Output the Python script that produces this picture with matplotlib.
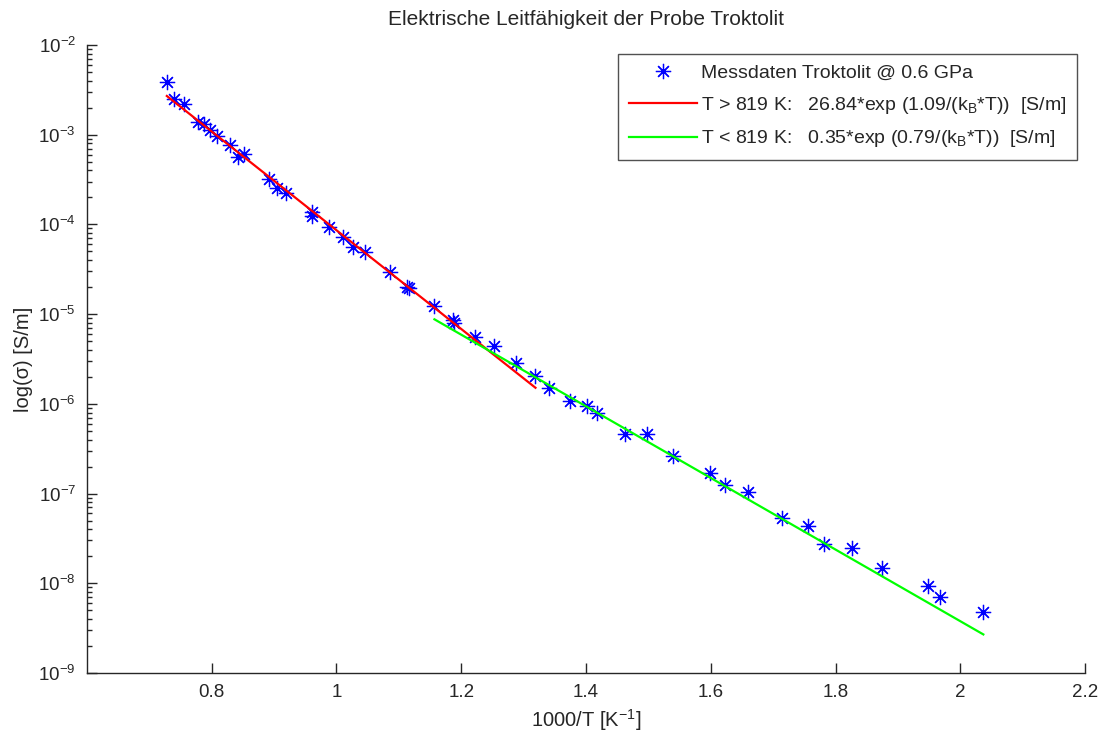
import matplotlib
matplotlib.use("Agg")
import matplotlib.pyplot as plt
from matplotlib.ticker import FixedLocator, FixedFormatter, LogLocator, NullFormatter

plt.rcParams["font.family"] = ["Liberation Sans", "DejaVu Sans"]
plt.rcParams["mathtext.fontset"] = "custom"
plt.rcParams["mathtext.rm"] = "Liberation Sans"
plt.rcParams["mathtext.it"] = "Liberation Sans"

# Messdaten (1000/T, sigma in S/m)
inv_T = [0.728, 0.740, 0.756, 0.778, 0.788, 0.797, 0.809, 0.829, 0.842, 0.852,
         0.892, 0.905, 0.919, 0.961, 0.961, 0.988, 1.011, 1.027, 1.046, 1.086,
         1.113, 1.116, 1.157, 1.187, 1.189, 1.222, 1.253, 1.288, 1.319, 1.341,
         1.375, 1.402, 1.418, 1.463, 1.498, 1.540, 1.599, 1.623, 1.659, 1.715,
         1.756, 1.782, 1.827, 1.875, 1.949, 1.968, 2.037]
sigma = [3.87e-3, 2.50e-3, 2.20e-3, 1.39e-3, 1.32e-3, 1.13e-3, 9.7e-4, 7.7e-4, 5.6e-4, 6.1e-4,
         3.2e-4, 2.55e-4, 2.24e-4, 1.37e-4, 1.24e-4, 9.4e-5, 7.2e-5, 5.6e-5, 4.9e-5, 2.94e-5,
         2.00e-5, 1.95e-5, 1.23e-5, 8.6e-6, 8.0e-6, 5.6e-6, 4.4e-6, 2.85e-6, 2.04e-6, 1.50e-6,
         1.07e-6, 9.4e-7, 7.9e-7, 4.6e-7, 4.6e-7, 2.62e-7, 1.69e-7, 1.25e-7, 1.04e-7, 5.3e-8,
         4.3e-8, 2.74e-8, 2.47e-8, 1.47e-8, 9.3e-9, 7.0e-9, 4.8e-9]

# Fit-Geraden (Endpunkte)
fit_hot_x = [0.728, 1.319]
fit_hot_y = [2.70e-3, 1.51e-6]
fit_cold_x = [1.157, 2.037]
fit_cold_y = [8.75e-6, 2.69e-9]

x_ticks = [0.8, 1.0, 1.2, 1.4, 1.6, 1.8, 2.0, 2.2]
x_tick_labels = ["0.8", "1", "1.2", "1.4", "1.6", "1.8", "2", "2.2"]

label_data = "Messdaten Troktolit @ 0.6 GPa"
label_hot = r"T > 819 K:   26.84*exp (1.09/(k$_\mathregular{B}$*T))  [S/m]"
label_cold = r"T < 819 K:   0.35*exp (0.79/(k$_\mathregular{B}$*T))  [S/m]"

txt_color = "#262626"

fig = plt.figure(figsize=(11.04, 7.38), dpi=100)
ax = fig.add_axes([0.0788, 0.0881, 0.904, 0.851])

ax.semilogy(inv_T, sigma, linestyle="none", marker=(8, 2, 0), markersize=11,
            markeredgewidth=0.9, color="#0000ff", label=label_data)
ax.semilogy(fit_hot_x, fit_hot_y, color="#ff0000", linewidth=1.6, label=label_hot)
ax.semilogy(fit_cold_x, fit_cold_y, color="#00ff00", linewidth=1.6, label=label_cold)

ax.set_xlim(0.6, 2.2)
ax.set_ylim(1e-9, 1e-2)
ax.xaxis.set_major_locator(FixedLocator(x_ticks))
ax.xaxis.set_major_formatter(FixedFormatter(x_tick_labels))
ax.yaxis.set_major_locator(LogLocator(base=10, numticks=20))
ax.yaxis.set_minor_locator(LogLocator(base=10, subs=range(2, 10), numticks=20))
ax.yaxis.set_minor_formatter(NullFormatter())

for side in ["top", "right"]:
    ax.spines[side].set_visible(False)
for side in ["left", "bottom"]:
    ax.spines[side].set_color(txt_color)
    ax.spines[side].set_linewidth(1.0)

ax.tick_params(which="major", direction="in", length=7, width=1.0,
               colors=txt_color, labelsize=13.5, pad=8)
ax.tick_params(which="minor", direction="in", length=3.5, width=1.0, colors=txt_color)
ax.tick_params(axis="x", which="minor", bottom=False)

ax.set_title("Elektrische Leitfähigkeit der Probe Troktolit", fontsize=15,
             color=txt_color, pad=14)
ax.set_xlabel(r"1000/T [K$^{\mathregular{-1}}$]", fontsize=14.5, color=txt_color)
ax.set_ylabel("log(σ) [S/m]", fontsize=14.5, color=txt_color, labelpad=4)

leg = ax.legend(loc="upper right", bbox_to_anchor=(0.992, 0.986), borderaxespad=0,
                fontsize=14, frameon=True, fancybox=False, edgecolor=txt_color,
                handlelength=3.5, borderpad=0.55, labelspacing=0.65, handletextpad=0.2)
leg.get_frame().set_linewidth(1.0)
for t in leg.get_texts():
    t.set_color(txt_color)

fig.savefig("out.png", dpi=100)
